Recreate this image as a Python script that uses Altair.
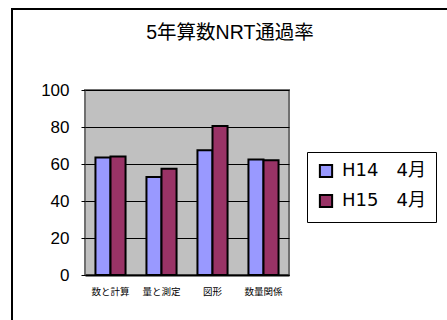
import altair as alt
import pandas as pd

categories = ["数と計算", "量と測定", "図形", "数量関係"]
series_names = ["H14　4月", "H15　4月"]
h14_values = [63.5, 53.0, 67.5, 62.5]
h15_values = [64.0, 57.5, 80.5, 62.0]
y_ticks = [0, 20, 40, 60, 80, 100]
colors = ["#9999FF", "#993366"]
title_text = "5年算数NRT通過率"

rows = []
for c, a, b in zip(categories, h14_values, h15_values):
    rows.append({"cat": c, "series": series_names[0], "value": a})
    rows.append({"cat": c, "series": series_names[1], "value": b})
df = pd.DataFrame(rows)

LATIN = "Liberation Sans, Noto Sans CJK JP, sans-serif"
CJK = "Noto Sans CJK JP, sans-serif"

W, H = 204, 185

bars = alt.Chart(df).mark_bar(stroke="black", strokeWidth=2).encode(
    x=alt.X("cat:N", sort=categories, title=None,
            scale=alt.Scale(paddingInner=0.41, paddingOuter=0.205),
            axis=alt.Axis(labelAngle=0, labelFont=CJK, labelFontSize=9.5,
                          labelColor="black", labelPadding=11, ticks=False,
                          domain=True, domainColor="black", domainWidth=2,
                          grid=False)),
    xOffset=alt.XOffset("series:N", sort=series_names),
    y=alt.Y("value:Q", title=None,
            scale=alt.Scale(domain=[0, 100], nice=False),
            axis=alt.Axis(values=y_ticks, labelFont=LATIN, labelFontSize=17,
                          labelColor="black", labelPadding=12, tickSize=4,
                          tickColor="black", domain=False, grid=True,
                          gridColor="black", gridWidth=1)),
    color=alt.Color("series:N", sort=series_names,
                    scale=alt.Scale(domain=series_names, range=colors),
                    legend=alt.Legend(title=None, orient="none", legendX=222,
                                      legendY=62, labelFont="DejaVu Sans, Noto Sans CJK JP",
                                      labelFontSize=18, labelColor="black",
                                      symbolType="square", symbolSize=150,
                                      symbolStrokeColor="black", symbolStrokeWidth=2,
                                      labelOffset=7, rowPadding=8, padding=10,
                                      fillColor="white", strokeColor="black")),
)

frame = alt.Chart(alt.Data(values=[{"a": 1}])).mark_rect(
    fill="white", fillOpacity=0, stroke="black", strokeWidth=2
).encode(
    x=alt.value(-73), x2=alt.value(380), y=alt.value(-81), y2=alt.value(250)
)

title = alt.Chart(alt.Data(values=[{"t": title_text}])).mark_text(
    font=LATIN, fontSize=19.5, color="black", align="center", baseline="alphabetic"
).encode(
    x=alt.value(145), y=alt.value(-51), text="t:N"
)

chart = alt.layer(frame, bars, title).properties(
    width=W, height=H,
    padding={"left": 85, "top": 90, "right": 158, "bottom": 45},
    autosize=alt.AutoSizeParams(type="none"),
    background="white",
).configure_view(
    fill="#C0C0C0", stroke="#707070", strokeWidth=2
)

chart.save("out.html", embed_options={"renderer": "svg", "actions": False})
